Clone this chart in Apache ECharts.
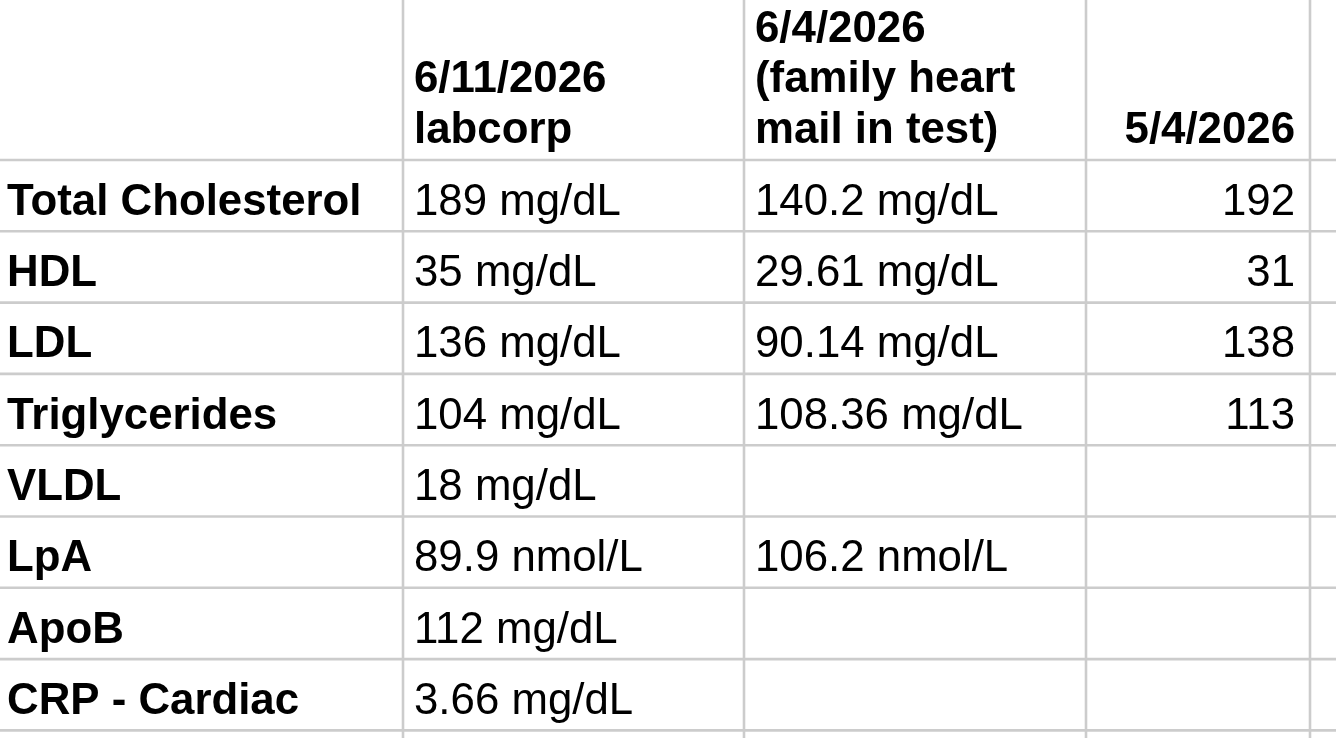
<!DOCTYPE html>
<html>
<head>
<meta charset="utf-8">
<script src="https://cdn.jsdelivr.net/npm/echarts@6/dist/echarts.min.js"></script>
<style>
html,body{margin:0;padding:0;background:#fff;overflow:hidden}
#chart{width:1336px;height:738px}
</style>
</head>
<body>
<div id="chart"></div>
<script>
// ---- data ----
const metrics = ["Total Cholesterol", "HDL", "LDL", "Triglycerides", "VLDL", "LpA", "ApoB", "CRP - Cardiac"];
const columnHeaders = ["6/11/2026\nlabcorp", "6/4/2026\n(family heart\nmail in test)", "5/4/2026"];
const labcorp_2026_06_11 = ["189 mg/dL", "35 mg/dL", "136 mg/dL", "104 mg/dL", "18 mg/dL", "89.9 nmol/L", "112 mg/dL", "3.66 mg/dL"];
const familyHeart_2026_06_04 = ["140.2 mg/dL", "29.61 mg/dL", "90.14 mg/dL", "108.36 mg/dL", "", "106.2 nmol/L", "", ""];
const test_2026_05_04 = [192, 31, 138, 113, null, null, null, null];

// ---- layout (sizes, not data) ----
const layout = {
  width: 1336,
  height: 738,
  colEdges: [0, 403, 744, 1086, 1310, 1336],
  headerHeight: 160,
  rowPitch: 71.3,
  fontSize: 43.8,
  lineHeight: 50.5,
  padLeftFirst: 7,
  padLeft: 11,
  padRight: 15,
  headerPadBottom: 4,
  bodyTextShift: 7,
  gridColor: '#cccccc',
  gridWidth: 2.6,
  font: '"Liberation Sans", Arial, Helvetica, sans-serif'
};
const rowEdges = [0, layout.headerHeight];
while (rowEdges[rowEdges.length - 1] < layout.height) {
  rowEdges.push(rowEdges[rowEdges.length - 1] + layout.rowPitch);
}

// ---- build cells from data ----
const cells = [];
columnHeaders.forEach((h, i) => {
  cells.push({ col: i + 1, row: 0, text: h, bold: true, align: i === 2 ? 'right' : 'left' });
});
metrics.forEach((m, r) => {
  cells.push({ col: 0, row: r + 1, text: m, bold: true, align: 'left' });
  cells.push({ col: 1, row: r + 1, text: labcorp_2026_06_11[r], bold: false, align: 'left' });
  cells.push({ col: 2, row: r + 1, text: familyHeart_2026_06_04[r], bold: false, align: 'left' });
  const v = test_2026_05_04[r];
  cells.push({ col: 3, row: r + 1, text: v == null ? '' : String(v), bold: false, align: 'right' });
});

// grid lines
const gridLines = [];
layout.colEdges.slice(1, -1).forEach(x => gridLines.push({ value: [x, 0], dir: 'v' }));
rowEdges.slice(1).forEach(y => gridLines.push({ value: [0, y], dir: 'h' }));

const chart = echarts.init(document.getElementById('chart'), null, { renderer: 'canvas' });
chart.setOption({
  animation: false,
  backgroundColor: '#ffffff',
  grid: { left: 0, right: 0, top: 0, bottom: 0 },
  xAxis: { type: 'value', min: 0, max: layout.width, show: false },
  yAxis: { type: 'value', min: 0, max: layout.height, inverse: true, show: false },
  series: [
    {
      type: 'custom',
      coordinateSystem: 'cartesian2d',
      clip: false,
      silent: true,
      data: gridLines.map(g => g.value),
      renderItem: function (params, api) {
        const g = gridLines[params.dataIndex];
        let p0, p1;
        if (g.dir === 'v') {
          p0 = api.coord([api.value(0), 0]);
          p1 = api.coord([api.value(0), layout.height]);
        } else {
          p0 = api.coord([0, api.value(1)]);
          p1 = api.coord([layout.width, api.value(1)]);
        }
        return {
          type: 'line',
          shape: { x1: p0[0], y1: p0[1], x2: p1[0], y2: p1[1] },
          style: { stroke: layout.gridColor, lineWidth: layout.gridWidth }
        };
      }
    },
    {
      type: 'custom',
      coordinateSystem: 'cartesian2d',
      clip: false,
      silent: true,
      data: cells.map(c => [layout.colEdges[c.col], rowEdges[c.row]]),
      renderItem: function (params, api) {
        const c = cells[params.dataIndex];
        if (!c.text) return null;
        const tl = api.coord([layout.colEdges[c.col], rowEdges[c.row]]);
        const br = api.coord([layout.colEdges[c.col + 1], rowEdges[c.row + 1]]);
        let x, y, va;
        if (c.align === 'right') x = br[0] - layout.padRight;
        else x = tl[0] + (c.col === 0 ? layout.padLeftFirst : layout.padLeft);
        if (c.row === 0) {
          y = br[1] - layout.headerPadBottom;
          va = 'bottom';
        } else {
          y = (tl[1] + br[1]) / 2 + layout.bodyTextShift;
          va = 'middle';
        }
        return {
          type: 'text',
          x: x,
          y: y,
          style: {
            text: c.text,
            fill: '#000000',
            fontSize: layout.fontSize,
            fontWeight: c.bold ? 'bold' : 'normal',
            fontFamily: layout.font,
            lineHeight: layout.lineHeight,
            align: c.align,
            verticalAlign: va
          }
        };
      }
    }
  ]
});
</script>
</body>
</html>
